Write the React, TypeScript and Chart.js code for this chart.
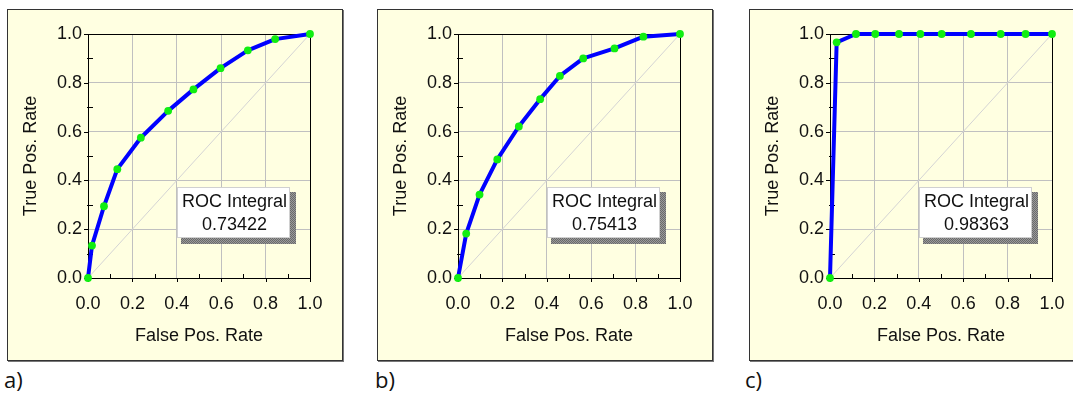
import React, { useEffect, useRef } from "react";
import { Chart, registerables } from "chart.js";

Chart.register(...registerables);

// ---------- data ----------
const panelLabels = ["a)", "b)", "c)"];
const rocIntegrals = ["0.73422", "0.75413", "0.98363"];

const fprA = [0, 0.018, 0.072, 0.132, 0.238, 0.361, 0.475, 0.597, 0.72, 0.843, 1.0];
const tprA = [0, 0.133, 0.294, 0.446, 0.575, 0.685, 0.773, 0.86, 0.933, 0.979, 1.0];

const fprB = [0, 0.037, 0.097, 0.177, 0.274, 0.37, 0.459, 0.564, 0.705, 0.835, 1.0];
const tprB = [0, 0.182, 0.342, 0.486, 0.621, 0.733, 0.828, 0.9, 0.941, 0.989, 1.0];

const fprC = [0, 0.03, 0.117, 0.204, 0.311, 0.407, 0.503, 0.635, 0.769, 0.881, 1.0];
const tprC = [0, 0.966, 1, 1, 1, 1, 1, 1, 1, 1, 1];

const diagX = [0, 1];
const diagY = [0, 1];

const minorTickValues = [0, 0.1, 0.2, 0.3, 0.4, 0.5, 0.6, 0.7, 0.8, 0.9, 1.0];

const xTitle = "False Pos. Rate";
const yTitle = "True Pos. Rate";
const boxTitle = "ROC Integral";

// ---------- styling ----------
const FONT = "'Liberation Sans', Arial, sans-serif";
const BG = "#ffffe1";
const CANVAS_W = 334;
const CANVAS_H = 350;

const ticksPlugin = {
  id: "axisTicks",
  beforeDatasetsDraw(chart: any) {
    const { ctx, chartArea } = chart;
    const xs = chart.scales.x;
    const ys = chart.scales.y;
    ctx.save();
    ctx.strokeStyle = "#000";
    ctx.lineWidth = 1;
    minorTickValues.forEach((v, i) => {
      const major = i % 2 === 0;
      const px = Math.round(xs.getPixelForValue(v)) + 0.5;
      const by = chartArea.bottom;
      ctx.beginPath();
      if (major) {
        ctx.moveTo(px, by);
        ctx.lineTo(px, by + 4);
      } else {
        ctx.moveTo(px, by - 4);
        ctx.lineTo(px, by + 1);
      }
      ctx.stroke();
      const py = Math.round(ys.getPixelForValue(v)) + 0.5;
      const lx = chartArea.left;
      ctx.beginPath();
      if (major) {
        ctx.moveTo(lx - 4, py);
        ctx.lineTo(lx, py);
      } else {
        ctx.moveTo(lx - 1, py);
        ctx.lineTo(lx + 5, py);
      }
      ctx.stroke();
    });
    ctx.restore();
  },
};

function makeShadowPattern(ctx: CanvasRenderingContext2D) {
  const c = document.createElement("canvas");
  c.width = 2;
  c.height = 2;
  const g = c.getContext("2d")!;
  g.fillStyle = "#9a9a9a";
  g.fillRect(0, 0, 2, 2);
  g.fillStyle = "#6a6a6a";
  g.fillRect(0, 0, 1, 1);
  g.fillRect(1, 1, 1, 1);
  return ctx.createPattern(c, "repeat");
}

const boxPlugin = {
  id: "rocBox",
  afterDatasetsDraw(chart: any, _args: any, opts: any) {
    const { ctx, chartArea } = chart;
    const w = chartArea.right - chartArea.left;
    const h = chartArea.bottom - chartArea.top;
    const x0 = Math.round(chartArea.left + 0.401 * w);
    const x1 = Math.round(chartArea.left + 0.91 * w);
    const y0 = Math.round(chartArea.top + 0.627 * h);
    const y1 = Math.round(chartArea.top + 0.836 * h);
    ctx.save();
    const pat = makeShadowPattern(ctx);
    ctx.fillStyle = pat || "#888";
    ctx.fillRect(x0 + 4, y0 + 5, x1 - x0 + 2, y1 - y0 + 1);
    ctx.fillStyle = "#ffffff";
    ctx.fillRect(x0, y0, x1 - x0, y1 - y0);
    ctx.strokeStyle = "#d0d0d0";
    ctx.lineWidth = 1;
    ctx.strokeRect(x0 + 0.5, y0 + 0.5, x1 - x0 - 1, y1 - y0 - 1);
    ctx.fillStyle = "#111";
    ctx.font = `18px ${FONT}`;
    ctx.textAlign = "center";
    ctx.textBaseline = "middle";
    const cx = (x0 + x1) / 2 + 1;
    ctx.fillText(boxTitle, cx, y0 + 15);
    ctx.fillText(opts.value, cx, y0 + 38);
    ctx.restore();
  },
};

function RocPanel({ fpr, tpr, integral }: { fpr: number[]; tpr: number[]; integral: string }) {
  const ref = useRef<HTMLCanvasElement | null>(null);
  useEffect(() => {
    if (!ref.current) return;
    const gridColor = (c: any) => {
      const v = c.tick ? c.tick.value : 0;
      return Math.abs(v) < 1e-6 || Math.abs(v - 1) < 1e-6 ? "#000000" : "#c0c0c0";
    };
    const chart = new Chart(ref.current, {
      type: "scatter",
      data: {
        datasets: [
          {
            data: fpr.map((x, i) => ({ x, y: tpr[i] })),
            showLine: true,
            borderColor: "#0000ff",
            borderWidth: 4,
            borderJoinStyle: "round",
            pointRadius: 3.9,
            pointBackgroundColor: "#11ee11",
            pointBorderWidth: 0,
            clip: false,
            order: 0,
          } as any,
          {
            data: diagX.map((x, i) => ({ x, y: diagY[i] })),
            showLine: true,
            borderColor: "#d4d4d4",
            borderWidth: 1,
            pointRadius: 0,
            order: 1,
          } as any,
        ],
      },
      options: {
        animation: false,
        responsive: false,
        events: [],
        layout: { padding: { left: 0, top: 24, right: 32, bottom: 0 } },
        plugins: {
          legend: { display: false },
          tooltip: { enabled: false },
          rocBox: { value: integral },
        } as any,
        scales: {
          x: {
            type: "linear",
            min: 0,
            max: 1,
            afterFit: (s: any) => {
              s.height = 82;
            },
            ticks: {
              stepSize: 0.2,
              autoSkip: false,
              maxRotation: 0,
              padding: 15,
              color: "#111",
              font: { family: FONT, size: 18 },
              callback: (v: any) => Number(v).toFixed(1),
            },
            grid: { color: gridColor, lineWidth: 1, drawTicks: false },
            border: { display: true, color: "#000", width: 1 },
            title: {
              display: true,
              text: xTitle,
              color: "#111",
              font: { family: FONT, size: 18 },
              padding: { top: 0, bottom: 13 },
            },
          },
          y: {
            type: "linear",
            min: 0,
            max: 1,
            afterFit: (s: any) => {
              s.width = 80;
            },
            ticks: {
              stepSize: 0.2,
              autoSkip: false,
              padding: 6,
              color: "#111",
              font: { family: FONT, size: 18 },
              callback: (v: any) => Number(v).toFixed(1),
            },
            grid: { color: gridColor, lineWidth: 1, drawTicks: false },
            border: { display: true, color: "#000", width: 1 },
            title: {
              display: true,
              text: yTitle,
              color: "#111",
              font: { family: FONT, size: 18 },
              padding: { top: 12, bottom: 0 },
            },
          },
        },
      } as any,
      plugins: [ticksPlugin, boxPlugin],
    });
    return () => chart.destroy();
  }, [fpr, tpr, integral]);
  return (
    <canvas
      ref={ref}
      width={CANVAS_W}
      height={CANVAS_H}
      style={{ position: "absolute", left: 0, top: 0, width: CANVAS_W, height: CANVAS_H }}
    />
  );
}

const panels = [
  { left: 7, fpr: fprA, tpr: tprA, labelLeft: 4 },
  { left: 377, fpr: fprB, tpr: tprB, labelLeft: 375 },
  { left: 749, fpr: fprC, tpr: tprC, labelLeft: 745 },
];

export default function App() {
  return (
    <div
      style={{
        position: "absolute",
        left: 0,
        top: 0,
        width: 1073,
        height: 398,
        overflow: "hidden",
        background: "#ffffff",
      }}
    >
      {panels.map((p, i) => (
        <React.Fragment key={i}>
          <div
            style={{
              position: "absolute",
              left: p.left,
              top: 9,
              width: 336,
              height: 352,
              boxSizing: "border-box",
              border: "1px solid #333",
              boxShadow: "1px 1px 0 #777",
              background: BG,
            }}
          >
            <RocPanel fpr={p.fpr} tpr={p.tpr} integral={rocIntegrals[i]} />
          </div>
          <div
            style={{
              position: "absolute",
              left: p.labelLeft,
              top: 369,
              fontFamily: "'Open Sans', 'Liberation Sans', sans-serif",
              fontSize: 22,
              lineHeight: "20px",
              color: "#111",
            }}
          >
            {panelLabels[i]}
          </div>
        </React.Fragment>
      ))}
    </div>
  );
}
